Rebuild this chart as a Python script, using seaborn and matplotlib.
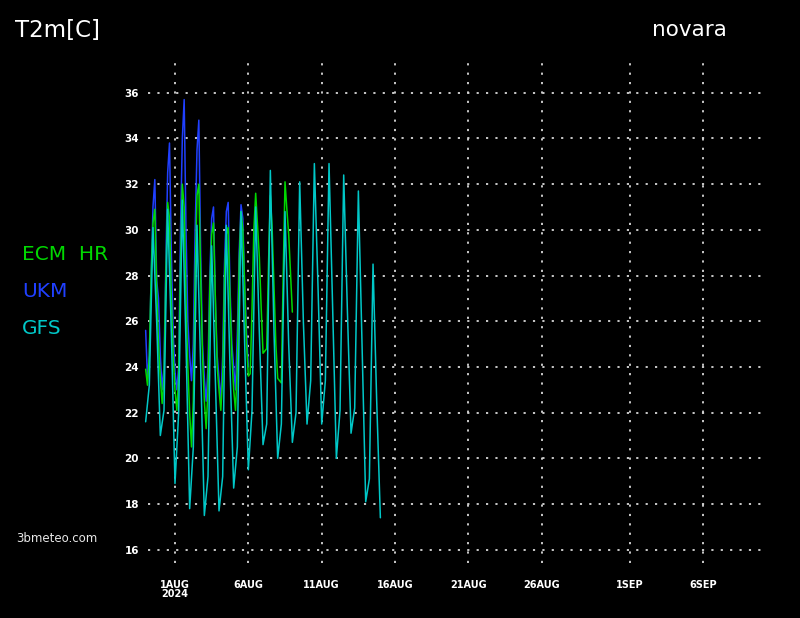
import matplotlib
matplotlib.use('Agg')
import matplotlib.pyplot as plt
import numpy as np
import pandas as pd
import seaborn as sns

# 2m temperature forecasts for novara, degrees C
# ECM HR: 3-hourly from 2024-07-30 00UTC
ecm_t2m = [
    23.9, 23.2, 24.5, 28.0, 30.3, 30.9, 27.5, 25.0,
    23.5, 22.4, 23.5, 28.0, 31.2, 30.5, 27.0, 24.5,
    23.0, 22.1, 23.5, 28.5, 32.0, 31.0, 27.0, 24.0,
    22.0, 20.5, 22.5, 28.0, 31.5, 32.0, 28.0, 24.5,
    22.5, 21.3, 23.0, 27.5, 29.8, 30.3, 27.0, 24.0,
    23.0, 22.1, 23.5, 28.0, 29.8, 30.1, 27.0, 24.5,
    23.0, 22.1, 24.0, 28.5, 30.8, 30.0, 27.5, 25.0,
    23.6, 23.7, 26.5, 30.0, 31.6, 30.2, 28.8, 26.6,
    24.6, 24.7, 24.8, 28.5, 31.5, 30.0, 27.5, 25.0,
    23.5, 23.4, 23.3, 28.0, 32.1, 30.9, 29.8, 28.1,
    26.4,
]
# UKM: 3-hourly from 2024-07-30 00UTC
ukm_t2m = [
    25.6, 23.5, 24.5, 28.0, 31.0, 32.2, 27.8, 27.0,
    24.5, 23.0, 24.0, 28.5, 32.5, 33.8, 29.0, 25.5,
    23.8, 23.0, 24.0, 30.0, 34.0, 35.7, 30.0, 26.0,
    24.5, 23.4, 25.0, 30.0, 33.5, 34.8, 29.0, 25.0,
    23.5, 22.5, 24.0, 28.0, 30.5, 31.0, 27.0, 24.5,
    23.5, 22.5, 24.5, 28.5, 30.8, 31.2, 27.5, 25.0,
    24.0, 23.0, 25.5, 29.0, 31.1, 30.5, 27.5, 25.5,
    24.0,
]
# GFS: 6-hourly from 2024-07-30 00UTC
gfs_t2m = [
    21.6, 23.2, 30.1, 26.0,
    21.0, 22.1, 30.9, 25.5,
    18.9, 22.0, 31.3, 25.0,
    17.8, 20.5, 30.2, 24.0,
    17.5, 19.2, 29.3, 23.5,
    17.7, 19.2, 30.2, 24.0,
    18.7, 20.5, 30.8, 25.0,
    19.5, 22.1, 31.0, 25.5,
    20.6, 21.5, 32.6, 25.5,
    20.0, 21.5, 30.8, 25.0,
    20.7, 22.0, 32.1, 26.0,
    21.5, 23.4, 32.9, 27.5,
    21.5, 23.4, 32.9, 26.5,
    20.0, 22.1, 32.4, 26.5,
    21.1, 22.2, 31.7, 25.0,
    18.1, 19.1, 28.5, 22.5,
    17.4,
]
run_start = '2024-07-30 00:00'
model_names = ['ECM  HR', 'UKM', 'GFS']
model_colors = ['#00d800', '#2040ff', '#00c8c8']
tick_days = ['2024-08-01', '2024-08-06', '2024-08-11', '2024-08-16',
             '2024-08-21', '2024-08-26', '2024-09-01', '2024-09-06']
tick_labels = ['1AUG\n2024', '6AUG', '11AUG', '16AUG', '21AUG', '26AUG', '1SEP', '6SEP']
y_ticks = np.arange(16, 37, 2)

ecm = pd.DataFrame({'time': pd.date_range(run_start, periods=len(ecm_t2m), freq='3h'), 't2m': ecm_t2m})
ukm = pd.DataFrame({'time': pd.date_range(run_start, periods=len(ukm_t2m), freq='3h'), 't2m': ukm_t2m})
gfs = pd.DataFrame({'time': pd.date_range(run_start, periods=len(gfs_t2m), freq='6h'), 't2m': gfs_t2m})

sns.set_style('dark')
plt.rcParams['font.family'] = ['DejaVu Sans']

fig = plt.figure(figsize=(8, 6.18), dpi=100, facecolor='black')
ax = fig.add_axes([148/800, 1-563/618, (763-148)/800, (563-58)/618])
ax.set_facecolor('black')

sns.lineplot(data=ukm, x='time', y='t2m', color=model_colors[1], lw=1.1, ax=ax)
sns.lineplot(data=ecm, x='time', y='t2m', color=model_colors[0], lw=1.1, ax=ax)
sns.lineplot(data=gfs, x='time', y='t2m', color=model_colors[2], lw=1.1, ax=ax)
for ln in ax.lines:
    ln.set_clip_on(False)

ax.set_xlim(pd.Timestamp('2024-07-30 03:50'), pd.Timestamp('2024-09-10 02:00'))
ax.set_ylim(15.42, 37.52)
ax.set_xticks(pd.to_datetime(tick_days))
ax.set_xticklabels(tick_labels, color='white', fontsize=7, fontweight='bold', linespacing=0.95)
ax.set_yticks(y_ticks)
ax.set_yticklabels([str(v) for v in y_ticks], color='white', fontsize=7.5, fontweight='bold')
ax.tick_params(axis='x', direction='out', length=9, width=1, color='white', pad=3)
ax.tick_params(axis='y', direction='out', length=4.5, width=1.2, color='white', pad=2)
ax.grid(True, color='#d8d8d8', linestyle=(0, (1.2, 4)), lw=1.3)
for s in ax.spines.values():
    s.set_visible(False)
ax.set_xlabel('')
ax.set_ylabel('')

fig.text(15/800, 1-30/618, 'T2m[C]', color='white', fontsize=16.5, va='center', ha='left')
fig.text(652/800, 1-30/618, 'novara', color='white', fontsize=15.5, va='center', ha='left')
for i, (name, col) in enumerate(zip(model_names, model_colors)):
    fig.text(22/800, 1-(255+36.5*i)/618, name, color=col, fontsize=14.5, va='center', ha='left')
fig.text(16/800, 1-538/618, '3bmeteo.com', color='#e8e8e8', fontsize=8.5, va='center', ha='left')

fig.savefig('out.png', dpi=100, facecolor='black')
